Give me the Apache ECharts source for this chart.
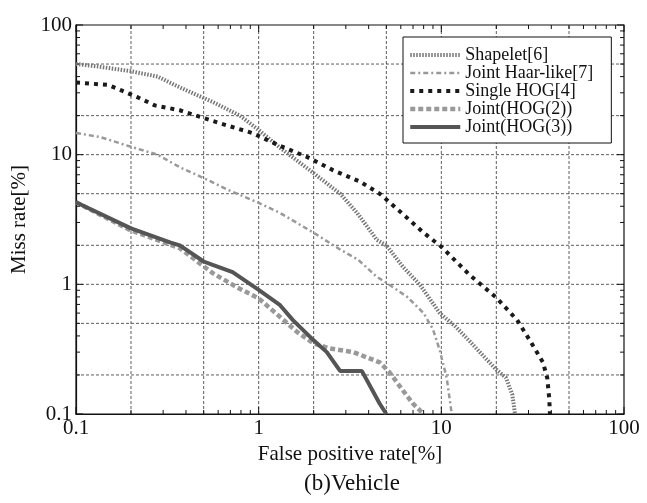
<!DOCTYPE html>
<html>
<head>
<meta charset="utf-8">
<script src="https://cdn.jsdelivr.net/npm/echarts@6/dist/echarts.min.js"></script>
<style>
html,body{margin:0;padding:0;background:#fff;}
#chart{width:647px;height:503px;}
</style>
</head>
<body>
<div id="chart"></div>
<script>
// ---- data (False positive rate [%] vs Miss rate [%]) ----
const seriesNames = ['Shapelet[6]', 'Joint Haar-like[7]', 'Single HOG[4]', 'Joint(HOG(2))', 'Joint(HOG(3))'];

const shapeletFP = [0.1, 0.13, 0.2, 0.28, 0.37, 0.56, 0.79, 1.0, 1.31, 2.0, 2.79, 3.46, 4.44, 5.0, 6.2, 7.6, 9.8, 12, 14.4, 17, 20, 22.6, 24.5, 25.3];
const shapeletMR = [50, 48, 44, 40, 33, 25.5, 20, 15.5, 11.3, 7.2, 5, 3.55, 2.2, 2.0, 1.35, 1.0, 0.6, 0.47, 0.36, 0.28, 0.22, 0.19, 0.14, 0.1];

const haarFP = [0.1, 0.135, 0.2, 0.28, 0.37, 0.5, 0.67, 1.0, 1.31, 2.0, 2.8, 3.5, 4.44, 5.0, 6.5, 8, 9.0, 9.8, 10.7, 11.4];
const haarMR = [14.7, 13.7, 11.5, 10, 8, 6.6, 5.4, 4.25, 3.55, 2.5, 1.85, 1.55, 1.14, 1.03, 0.8, 0.6, 0.45, 0.31, 0.19, 0.1];

const singleFP = [0.1, 0.15, 0.18, 0.22, 0.27, 0.37, 0.48, 0.61, 0.92, 1.31, 1.84, 2.55, 3.58, 4.6, 6, 8, 10, 14.4, 20, 26, 30.5, 36, 38, 39, 39.3];
const singleMR = [36, 34.5, 31, 27.5, 24, 22, 19.5, 17.5, 14.7, 11.7, 9.6, 7.6, 6.2, 5, 3.6, 2.5, 1.95, 1.17, 0.79, 0.53, 0.37, 0.25, 0.19, 0.13, 0.1];

const hog2FP = [0.1, 0.2, 0.37, 0.56, 0.76, 1.0, 1.31, 1.62, 2.0, 2.46, 3.3, 4.6, 5.2, 6.2, 7.0, 8.0];
const hog2MR = [4.3, 2.6, 1.9, 1.22, 0.95, 0.78, 0.56, 0.43, 0.35, 0.32, 0.30, 0.25, 0.21, 0.15, 0.12, 0.1];

const hog3FP = [0.1, 0.2, 0.33, 0.37, 0.5, 0.56, 0.72, 1.0, 1.31, 1.54, 2.0, 2.36, 2.79, 3.67, 4.6, 5.0];
const hog3MR = [4.3, 2.7, 2.1, 2.0, 1.5, 1.41, 1.24, 0.905, 0.69, 0.53, 0.37, 0.30, 0.215, 0.215, 0.12, 0.1];

// axis tick labels / grid values
const axisMin = 0.1, axisMax = 100;
const gridValues = [0.2, 0.5, 1, 2, 5, 10, 20, 50];
const decades = [0.1, 1, 10];
const minorMultipliers = [2, 3, 4, 5, 6, 7, 8, 9];

const zip = (xs, ys) => xs.map((x, i) => [x, ys[i]]);
const FONT = "'Liberation Serif', 'Times New Roman', serif";

const styles = [
  { color: '#777', width: 4, type: [1.5, 1.5], z: 3 },
  { color: '#999', width: 2.5, type: [5, 3, 2, 3], z: 3 },
  { color: '#1a1a1a', width: 4, type: [4, 5], z: 4 },
  { color: '#999', width: 4.5, type: [5, 3], z: 3 },
  { color: '#555', width: 4, type: 'solid', z: 4 }
];

const chart = echarts.init(document.getElementById('chart'));

function frameRender(params, api) {
  const children = [];
  const dash = { stroke: '#333', lineWidth: 0.8, lineDash: [3, 2] };
  gridValues.forEach(v => {
    const a = api.coord([v, axisMin]), b = api.coord([v, axisMax]);
    children.push({ type: 'line', shape: { x1: a[0], y1: a[1], x2: b[0], y2: b[1] }, style: dash });
    const c = api.coord([axisMin, v]), d = api.coord([axisMax, v]);
    children.push({ type: 'line', shape: { x1: c[0], y1: c[1], x2: d[0], y2: d[1] }, style: dash });
  });
  const tickStyle = { stroke: '#111', lineWidth: 1 };
  const ticks = [];
  decades.forEach(d => minorMultipliers.forEach(m => ticks.push([d * m, 4])));
  [0.1, 1, 10, 100].forEach(v => ticks.push([v, 7]));
  ticks.forEach(([v, len]) => {
    const bot = api.coord([v, axisMin]), top = api.coord([v, axisMax]);
    children.push({ type: 'line', shape: { x1: bot[0], y1: bot[1], x2: bot[0], y2: bot[1] - len }, style: tickStyle });
    children.push({ type: 'line', shape: { x1: top[0], y1: top[1], x2: top[0], y2: top[1] + len }, style: tickStyle });
    const l = api.coord([axisMin, v]), r = api.coord([axisMax, v]);
    children.push({ type: 'line', shape: { x1: l[0], y1: l[1], x2: l[0] + len, y2: l[1] }, style: tickStyle });
    children.push({ type: 'line', shape: { x1: r[0], y1: r[1], x2: r[0] - len, y2: r[1] }, style: tickStyle });
  });
  return { type: 'group', children };
}

const dataSets = [
  [shapeletFP, shapeletMR], [haarFP, haarMR], [singleFP, singleMR], [hog2FP, hog2MR], [hog3FP, hog3MR]
];

const lineSeriesList = seriesNames.map((name, i) => {
  const s = styles[i];
  return {
    type: 'line', name, data: zip(dataSets[i][0], dataSets[i][1]), showSymbol: false, symbol: 'none', z: s.z,
    color: s.color, itemStyle: { color: s.color, opacity: 0 },
    lineStyle: { color: s.color, width: s.width, type: s.type }
  };
});

const option = {
  animation: false,
  backgroundColor: '#fff',
  textStyle: { fontFamily: FONT },
  grid: { left: 76, right: 23, top: 25, bottom: 89, show: true, borderColor: '#111', borderWidth: 1.2, backgroundColor: 'transparent' },
  legend: {
    data: seriesNames.map((name, i) => ({
      name,
      lineStyle: { color: styles[i].color, width: styles[i].width, type: styles[i].type }
    })),
    orient: 'vertical',
    left: 403, top: 37,
    padding: [9, 18, 7, 5],
    backgroundColor: '#fff',
    borderColor: '#111', borderWidth: 1,
    itemWidth: 50, itemHeight: 12, itemGap: 0, itemTextGap: 9,
    itemStyle: { opacity: 0, borderWidth: 0 },
    textStyle: { fontFamily: FONT, fontSize: 18, color: '#111', lineHeight: 18 },
    z: 10
  },
  xAxis: {
    type: 'log', logBase: 10, min: axisMin, max: axisMax,
    name: 'False positive rate[%]', nameLocation: 'middle', nameGap: 30,
    nameTextStyle: { fontFamily: FONT, fontSize: 21, color: '#111' },
    axisLine: { show: true, lineStyle: { color: '#111', width: 1.2 } },
    axisTick: { show: false },
    splitLine: { show: false },
    axisLabel: { fontFamily: FONT, fontSize: 21, color: '#111', margin: 4 }
  },
  yAxis: {
    type: 'log', logBase: 10, min: axisMin, max: axisMax,
    name: 'Miss rate[%]', nameLocation: 'middle', nameGap: 44,
    nameTextStyle: { fontFamily: FONT, fontSize: 21, color: '#111' },
    axisLine: { show: true, lineStyle: { color: '#111', width: 1.2 } },
    axisTick: { show: false },
    splitLine: { show: false },
    axisLabel: { fontFamily: FONT, fontSize: 21, color: '#111', margin: 4 }
  },
  graphic: [{
    type: 'text', x: 352, y: 484,
    style: { text: '(b)Vehicle', font: '23px ' + FONT, fill: '#111', textAlign: 'center', textVerticalAlign: 'middle' }
  }],
  series: [
    { type: 'custom', name: 'frame', coordinateSystem: 'cartesian2d', data: [[1, 1]], renderItem: frameRender, silent: true, z: 1 }
  ].concat(lineSeriesList)
};
chart.setOption(option);
</script>
</body>
</html>
